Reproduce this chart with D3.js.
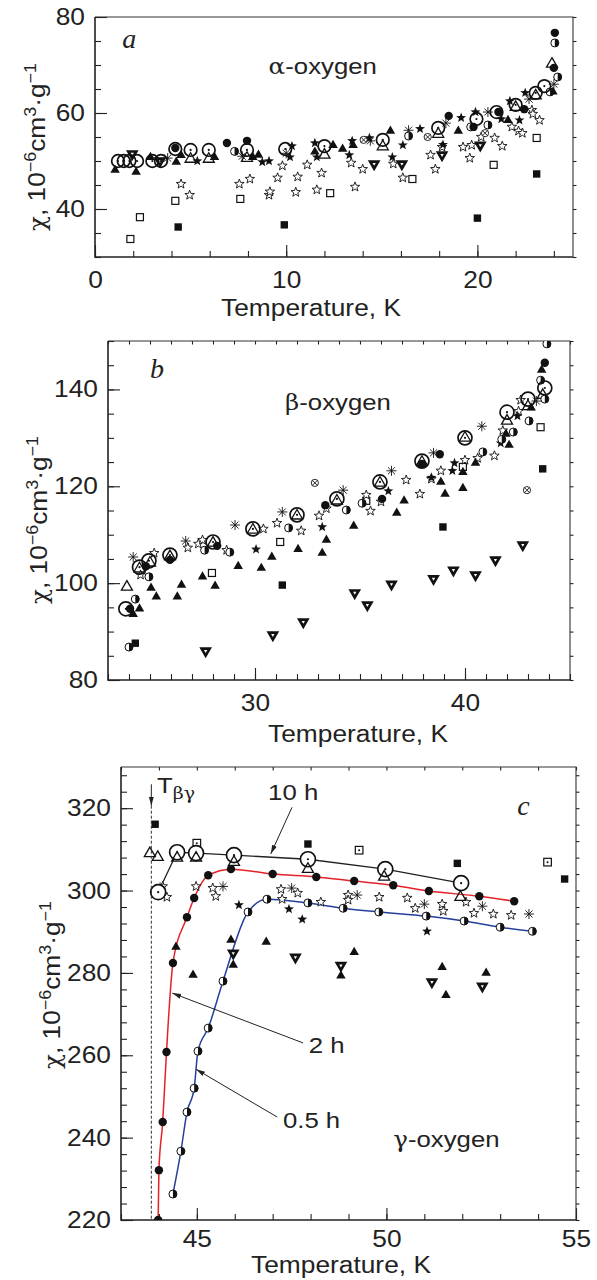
<!DOCTYPE html>
<html><head><meta charset="utf-8">
<script src="https://cdn.jsdelivr.net/npm/d3@7"></script>
<style>body{margin:0;background:#fff}svg{display:block}</style>
</head><body>
<svg id="chart" width="597" height="1280"></svg>
<script>
// ---------------- Panel a (alpha-oxygen) ----------------
const aXTicks = [0, 10, 20];
const aYTicks = [40, 60, 80];
const aBigCircle = [[1.2,50],[1.5,50],[1.8,50],[2.2,50],[3.0,50],[3.45,50],[4.2,52.5],[5.0,52.3],[5.95,52.3],[7.95,52.3],[9.95,52.5],[12.0,53.1],[15.05,54.4],[17.95,56.9],[19.95,58.75],[21.0,60.2],[22.0,61.7],[23.05,64.2],[23.5,65.6]];
const aOpenTri = [[5.0,50.4],[5.95,50.4],[7.95,50.6],[12.0,51.25],[15.05,53],[17.95,55.6],[22.0,61.2],[23.05,63.6],[23.9,70.2]];
const aFilledTri = [[1.05,48.1],[2.15,47.7],[2.9,50.8],[4.25,49.8],[4.5,51.2],[6.25,50.8],[8.25,50.8],[8.55,51.25],[11.5,51.9],[12.45,53.3],[12.95,52.5],[13.5,53.3],[15.45,56.25],[19.0,56.25],[21.6,58.5],[23.95,64.4]];
const aFilledCircle = [[4.2,52.7],[6.9,53.75],[7.95,54.2],[18.5,59.4],[19.8,57.1],[21.1,60.2],[22.45,60.8],[24.0,69.4],[24.05,76.7]];
const aHalfCircle = [[7.3,52],[16.4,55.2],[19.65,57.1],[20.55,57.5],[23.8,64.4],[24.2,67.5],[24.05,74.6]];
const aOpenSquare = [[1.85,33.75],[2.35,38.3],[4.2,41.7],[7.6,42.1],[12.3,43.3],[16.6,46.25],[20.85,49.2],[23.1,54.8]];
const aFilledSquare = [[4.35,36.25],[9.9,36.7],[20.0,38.1],[23.1,47.3]];
const aOpenStar = [[4.5,45.2],[4.95,42.9],[7.55,45.2],[8.1,46.25],[9.1,42.9],[9.15,43.6],[9.55,46.5],[9.8,49],[10.5,43.5],[10.6,46.7],[11.1,49.2],[11.6,44],[11.85,47.5],[13.4,49.6],[13.6,44.6],[14.0,48.3],[15.6,49.4],[16.1,46.5],[17.55,51.25],[17.8,48.3],[18.15,52.9],[19.25,52.9],[19.6,50.6],[19.7,53.3],[20.2,55],[20.9,54.8],[21.3,53.1],[21.8,57.1],[22.15,56.25],[22.35,55.8],[22.85,60.6],[22.9,59.8],[23.25,58.5]];
const aFilledStar = [[5.35,50],[8.75,49.8],[9.1,50],[10.3,53.1],[10.2,50.8],[11.5,53.75],[11.6,50.8],[13.45,54.2],[13.3,51.25],[14.35,54.8],[15.55,50.8],[16.1,53.3],[17.0,56.7],[18.2,53.4],[19.15,59],[19.9,60.2],[21.25,58.75],[21.7,62.5],[22.2,58.5],[22.5,64.2]];
const aAsterisk = [[3.8,50.6],[7.7,51],[10.0,51.6],[14.4,54.2],[16.4,56.4],[18.35,57.9],[20.55,60.2],[22.7,62.9],[24.0,66]];
const aCircleX = [[14.05,54.4],[17.4,55],[20.4,55.8]];
const aDownTri = [[1.95,51.5],[3.4,50],[14.6,49.4],[16.05,49.4],[18.15,51.25],[20.15,53.3]];

// ---------------- Panel b (beta-oxygen) ----------------
const bXTicks = [30, 40];
const bYTicks = [80, 100, 120, 140];
const bBigCircle = [[23.85,94.7],[24.5,103.3],[24.95,104.6],[25.95,105.8],[28.0,108.5],[29.9,111.2],[32.0,114.1],[33.9,117.4],[35.95,120.9],[37.95,125.2],[40.0,130],[42.0,135.3],[43.0,138],[43.8,140.3]];
const bOpenTri = [[23.9,99.2],[24.5,103],[25.0,104.2],[25.95,105.5],[28.0,108.3],[29.9,111],[32.0,113.9],[33.9,117],[35.95,120.7],[37.95,125],[40.0,130],[42.0,133.5],[43.0,136.5],[43.7,138.8]];
const bFilledTri = [[24.2,93.6],[24.5,94.7],[25.05,99],[25.3,97.2],[26.3,97.2],[26.5,99.6],[27.5,101.3],[28.1,99.4],[29.2,103.5],[30.3,103.1],[30.8,105.4],[32.05,107],[33.2,106.2],[33.4,108.9],[34.7,111.8],[36.75,114.5],[37.1,117],[38.85,120.9],[39.05,118.4],[39.9,122.9],[39.9,119.6],[40.5,124.8],[41.95,130.8],[42.1,128.5],[43.15,136.2],[43.65,144]];
const bFilledCircle = [[24.05,94.7],[24.8,103.5],[25.95,104.8],[28.2,107.7],[33.35,116.1],[36.05,117.4],[37.95,124.6],[38.8,126.6],[43.8,145.5]];
const bHalfCircle = [[24.3,96.7],[24.0,86.8],[24.95,101.3],[27.6,106.8],[28.8,106.4],[31.6,111.4],[34.35,115.1],[35.1,116.5],[40.85,127.1],[41.75,129.7],[42.3,131.2],[43.05,133.5],[43.6,141.9],[43.8,138],[43.9,149.4]];
const bOpenSquare = [[27.95,102.1],[31.2,108.5],[35.3,117],[39.9,124],[43.6,132.2]];
const bFilledSquare = [[24.3,87.6],[31.3,99.6],[38.95,111.6],[43.7,123.6]];
const bOpenStar = [[24.55,101.7],[25.2,106.2],[26.8,107.3],[27.3,108.1],[27.5,108.9],[28.65,106.8],[30.4,111.2],[31.05,112.4],[32.2,110.8],[33.05,113.9],[33.4,115.4],[35.3,118.2],[35.5,114.9],[36.0,116.8],[37.2,121.3],[37.85,118.4],[38.4,121.5],[38.85,123.2],[40.0,125.4],[40.6,125.8],[41.4,126.3],[41.8,131.5],[42.55,135.5],[42.65,137.8]];
const bFilledStar = [[30.05,107],[33.2,111.6],[36.35,119],[38.4,121.8],[39.4,123.2],[39.5,124.8],[41.7,128.9],[42.5,134.5]];
const bAsterisk = [[24.2,105.4],[26.7,108.7],[29.05,112],[31.3,114.7],[34.2,119.2],[36.5,123.2],[38.5,126.9],[40.8,132.4],[43.4,137.6]];
const bCircleX = [[32.85,120.7],[42.95,119.2]];
const bDownTri = [[27.65,86.0],[30.85,89.3],[32.3,92],[34.75,98],[35.35,95.5],[36.5,99.8],[38.5,100.9],[39.45,102.7],[40.5,101.7],[41.45,104.8],[42.75,107.9]];

// ---------------- Panel c (gamma-oxygen) ----------------
const cXTicks = [45, 50, 55];
const cYTicks = [220, 240, 260, 280, 300, 320];
const c10h = [[43.98,299.6],[44.48,309.3],[44.98,309.1],[45.98,308.6],[47.93,307.6],[49.97,305.2],[51.97,301.8]];
const c2h = [[43.98,220],[44.0,232.1],[44.1,243.8],[44.2,260.8],[44.37,282.4],[44.74,293.5],[44.93,298.2],[45.3,303.7],[45.9,305.2],[47.0,304],[48.15,303.3],[49.15,302.3],[50.18,301.3],[51.12,299.9],[52.45,298.6],[53.37,297.4]];
const c05h = [[44.37,226.3],[44.58,236.7],[44.74,246.2],[44.93,252],[45.03,261],[45.3,266.6],[45.69,278],[46.35,294.8],[46.85,297.9],[47.93,297],[48.86,295.7],[49.8,294.8],[51.05,293.8],[52.05,292.6],[53.0,291.1],[53.85,290.1]];
const cOpenTri = [[43.76,309],[43.97,308.1],[44.48,307.9],[44.98,307.9],[45.98,306.9],[47.93,305.2],[49.94,303.3],[51.95,298.4]];
const cFilledSquare = [[43.9,316.1],[47.93,311.3],[51.87,306.6],[54.7,302.8]];
const cDotSquare = [[45.0,311.5],[49.28,309.8],[54.25,306.9]];
const cOpenStar = [[44.21,298.4],[44.1,301],[44.98,301],[45.42,300.6],[45.5,298.6],[47.22,300.3],[47.25,297.9],[47.66,299.4],[48.27,297.2],[48.99,298.9],[48.99,297.7],[49.81,298.4],[50.55,298.2],[50.76,295.7],[51.47,296.7],[51.5,295],[52.1,297.2],[52.31,294.5],[52.82,294.3],[53.29,294]];
const cFilledStar = [[46.11,296.5],[47.43,295.5],[47.78,293],[51.07,290.1]];
const cAsterisk = [[44.03,300.8],[45.69,301],[47.5,300.6],[49.23,298.9],[51.0,296.7],[52.53,296.2],[53.76,294.3]];
const cFilledTri = [[44.45,286.3],[44.9,279.5],[45.9,288],[45.96,281.9],[46.83,287.5],[48.8,279.3],[49.15,285],[51.47,281.4],[51.57,274.6],[52.63,280]];
const cDownTri = [[45.96,284.8],[47.6,283.8],[48.8,281.8],[51.2,277.8],[52.53,276.8]];
const cTransition = 43.8;

// ---------------- drawing ----------------
const FONT = "'Liberation Sans', Arial, Helvetica, sans-serif";
const GREEK = "'DejaVu Serif', 'Liberation Serif', serif";
const SX = 1.12;
const svg = d3.select('#chart');
const defs = svg.append('defs');
defs.append('marker').attr('id','ah').attr('viewBox','0 0 10 10').attr('refX',10).attr('refY',5)
  .attr('markerWidth',9).attr('markerHeight',9).attr('orient','auto')
  .append('path').attr('d','M0,2.2 L10,5 L0,7.8 Z').attr('fill','#222');

const triPath = (w, up) => {
  const h = w * 0.866;
  return up ? `M0,${-2*h/3}L${w/2},${h/3}L${-w/2},${h/3}Z` : `M0,${2*h/3}L${w/2},${-h/3}L${-w/2},${-h/3}Z`;
};
const starPath = (R) => {
  const r = R * 0.42; let d = '';
  for (let i = 0; i < 10; i++) {
    const a = -Math.PI/2 + i * Math.PI/5, rr = i % 2 ? r : R;
    d += (i ? 'L' : 'M') + (rr*Math.cos(a)).toFixed(2) + ',' + (rr*Math.sin(a)).toFixed(2);
  }
  return d + 'Z';
};

function mark(g, type, px, py, big) {
  const m = g.append('g').attr('transform', `translate(${px},${py})`);
  const K = '#111';
  switch (type) {
    case 'fc': m.append('circle').attr('r',4.2).attr('fill',K); break;
    case 'hc':
      m.append('circle').attr('r',4).attr('fill','#fff').attr('stroke',K).attr('stroke-width',1);
      m.append('path').attr('d','M0,-4A4,4 0 0 1 0,4Z').attr('fill',K); break;
    case 'ot': m.append('path').attr('d',triPath(11,true)).attr('fill','none').attr('stroke',K).attr('stroke-width',1.3); break;
    case 'ft': m.append('path').attr('d',triPath(9.5,true)).attr('fill',K); break;
    case 'dt': m.append('path').attr('d',triPath(8,false)).attr('fill','#fff').attr('stroke',K).attr('stroke-width',2.7).attr('stroke-linejoin','miter'); break;
    case 'bc':
      m.append('circle').attr('r',big.r).attr('fill',big.fill).attr('stroke',K).attr('stroke-width',1.7);
      m.append('circle').attr('r',1.1).attr('fill',K); break;
    case 'os': m.append('rect').attr('x',-3.5).attr('y',-3.5).attr('width',7).attr('height',7).attr('fill','#fff').attr('stroke',K).attr('stroke-width',1.2); break;
    case 'fs': m.append('rect').attr('x',-3.7).attr('y',-3.7).attr('width',7.4).attr('height',7.4).attr('fill',K); break;
    case 'ds':
      m.append('rect').attr('x',-3.8).attr('y',-3.8).attr('width',7.6).attr('height',7.6).attr('fill','#fff').attr('stroke',K).attr('stroke-width',1.2);
      m.append('circle').attr('r',1).attr('fill',K); break;
    case 'ost': m.append('path').attr('d',starPath(5)).attr('fill','#fff').attr('stroke',K).attr('stroke-width',0.9); break;
    case 'fst': m.append('path').attr('d',starPath(5.2)).attr('fill',K); break;
    case 'ast':
      for (let i = 0; i < 4; i++) {
        const a = i * Math.PI/4, r = 5;
        m.append('line').attr('x1',-r*Math.cos(a)).attr('y1',-r*Math.sin(a)).attr('x2',r*Math.cos(a)).attr('y2',r*Math.sin(a)).attr('stroke',K).attr('stroke-width',0.9);
      }
      break;
    case 'cx':
      m.append('circle').attr('r',3.6).attr('fill','#fff').attr('stroke',K).attr('stroke-width',0.9);
      m.append('path').attr('d','M-2.5,-2.5L2.5,2.5M-2.5,2.5L2.5,-2.5').attr('stroke',K).attr('stroke-width',0.9); break;
  }
}

function styleText(sel, size) {
  sel.attr('font-family', FONT).attr('font-size', size).attr('fill', '#222');
}

function panel(cfg) {
  const x = d3.scaleLinear().domain(cfg.xDom).range([cfg.left, cfg.right]);
  const y = d3.scaleLinear().domain(cfg.yDom).range([cfg.bottom, cfg.top]);
  const g = svg.append('g');
  defs.append('clipPath').attr('id','clip-'+cfg.id).append('rect')
    .attr('x',cfg.left).attr('y',cfg.top).attr('width',cfg.right-cfg.left).attr('height',cfg.bottom-cfg.top);

  const axStyle = s => { s.select('.domain').remove(); s.selectAll('line').attr('stroke','#222').attr('stroke-width',1.1); };
  g.append('g').attr('transform',`translate(0,${cfg.bottom})`)
    .call(d3.axisBottom(x).tickValues(cfg.xMinor).tickSize(-6).tickFormat('')).call(axStyle);
  g.append('g').attr('transform',`translate(${cfg.left},0)`)
    .call(d3.axisLeft(y).tickValues(cfg.yMinor).tickSize(-6).tickFormat('')).call(axStyle);
  g.append('g').attr('transform',`translate(${cfg.right},0)`)
    .call(d3.axisRight(y).tickValues(cfg.yMinor).tickSize(3.5).tickFormat('')).call(axStyle);
  if (cfg.topTicks) g.append('g').attr('transform',`translate(0,${cfg.top})`)
    .call(d3.axisTop(x).tickValues(cfg.xMinor).tickSize(-3.5).tickFormat('')).call(axStyle);
  const bx = g.append('g').attr('transform',`translate(0,${cfg.bottom})`)
    .call(d3.axisBottom(x).tickValues(cfg.xMajor).tickSize(-12).tickPadding(cfg.xPad).tickFormat(d3.format('d'))).call(axStyle);
  const by = g.append('g').attr('transform',`translate(${cfg.left},0)`)
    .call(d3.axisLeft(y).tickValues(cfg.yMajor).tickSize(-12).tickPadding(9).tickFormat(d3.format('d'))).call(axStyle);
  [bx, by].forEach(a => { a.attr('font-family',null).attr('font-size',null);
    a.selectAll('text').call(styleText, 23.5).attr('transform',`scale(${SX},1)`); });
  g.append('path').attr('d',`M${cfg.left},${cfg.top}H${cfg.right}V${cfg.bottom}`).attr('fill','none').attr('stroke','#333').attr('stroke-width',1.1);
  g.append('path').attr('d',`M${cfg.left},${cfg.top}V${cfg.bottom}H${cfg.right}`).attr('fill','none').attr('stroke','#222').attr('stroke-width',1.6);

  g.append('text').attr('transform',`translate(${cfg.xTitle[0]},${cfg.xTitle[1]}) scale(${SX},1)`)
    .attr('text-anchor','middle').call(styleText, 23.5).text('Temperature, K');
  const yt = g.append('text').attr('transform',`translate(${cfg.yTitle[0]},${cfg.yTitle[1]}) rotate(-90) scale(${SX},1)`)
    .attr('text-anchor','middle').call(styleText, 23.5);
  yt.append('tspan').attr('font-family',GREEK).attr('font-size',22).text('χ');
  yt.append('tspan').text(', 10');
  yt.append('tspan').attr('dy',-9).attr('font-size',16).text('−6');
  yt.append('tspan').attr('dy',9).text('cm');
  yt.append('tspan').attr('dy',-9).attr('font-size',16).text('3');
  yt.append('tspan').attr('dy',9).text('·g');
  yt.append('tspan').attr('dy',-9).attr('font-size',16).text('−1');

  const plot = g.append('g').attr('clip-path',`url(#clip-${cfg.id})`);
  return {x, y, g, plot};
}

function series(P, data, type, big) {
  data.forEach(d => mark(P.plot, type, P.x(d[0]), P.y(d[1]), big));
}
function label(P, T, chi, str, size, opts = {}) {
  const t = P.g.append('text').attr('transform',`translate(${P.x(T)},${P.y(chi)}) scale(${opts.sx || SX},1)`)
    .call(styleText, size);
  if (opts.greek) {
    t.append('tspan').attr('font-family',GREEK).attr('font-size',size - 1).text(opts.greek);
    t.append('tspan').text(str);
  } else t.text(str);
  if (opts.italic) t.attr('font-family',"'Liberation Serif', 'Times New Roman', serif").attr('font-style','italic');
  return t;
}

// Panel a
const A = panel({id:'a', xDom:[0,25], yDom:[30,80], left:95, right:573, top:17, bottom:257,
  xMajor:aXTicks, xMinor:d3.range(0,25.01,2), yMajor:aYTicks, yMinor:d3.range(30,80.01,5), xPad:14,
  xTitle:[311,316], yTitle:[45,147], topTicks:false});
series(A, aOpenSquare,'os'); series(A, aFilledSquare,'fs'); series(A, aOpenStar,'ost'); series(A, aFilledStar,'fst');
series(A, aAsterisk,'ast'); series(A, aCircleX,'cx'); series(A, aDownTri,'dt'); series(A, aFilledTri,'ft');
series(A, aOpenTri,'ot'); series(A, aHalfCircle,'hc'); series(A, aFilledCircle,'fc');
series(A, aBigCircle,'bc',{r:6.3, fill:'none'});
label(A, 1.42, 73.5, 'a', 28, {italic:true, sx:1});
label(A, 9.08, 68.1, '-oxygen', 23, {greek:'α'});

// Panel b
const B = panel({id:'b', xDom:[23,45], yDom:[80,150], left:108, right:570, top:341, bottom:680,
  xMajor:bXTicks, xMinor:d3.range(23,45.01,1), yMajor:bYTicks, yMinor:d3.range(80,150.01,5), xPad:14,
  xTitle:[358,742], yTitle:[47,520], topTicks:true});
series(B, bOpenSquare,'os'); series(B, bFilledSquare,'fs'); series(B, bOpenStar,'ost'); series(B, bFilledStar,'fst');
series(B, bAsterisk,'ast'); series(B, bCircleX,'cx'); series(B, bDownTri,'dt'); series(B, bFilledTri,'ft');
series(B, bOpenTri,'ot'); series(B, bHalfCircle,'hc'); series(B, bFilledCircle,'fc');
series(B, bBigCircle,'bc',{r:7, fill:'none'});
label(B, 25.0, 142.4, 'b', 28, {italic:true, sx:1});
label(B, 31.43, 135.7, '-oxygen', 23, {greek:'β'});

// Panel c
const C = panel({id:'c', xDom:[43,55], yDom:[220,330], left:121, right:576, top:767, bottom:1220,
  xMajor:cXTicks, xMinor:d3.range(43,55.01,1), yMajor:cYTicks, yMinor:d3.range(220,330.01,4), xPad:10,
  xTitle:[341,1273], yTitle:[60,985], topTicks:true});
C.g.append('line').attr('x1',C.x(cTransition)).attr('x2',C.x(cTransition)).attr('y1',C.y(320.6)).attr('y2',C.y(220))
  .attr('stroke','#333').attr('stroke-width',1).attr('stroke-dasharray','3,2');
C.g.append('line').attr('x1',C.x(cTransition)).attr('x2',C.x(cTransition)).attr('y1',C.y(325.8)).attr('y2',C.y(320.6))
  .attr('stroke','#222').attr('stroke-width',1).attr('marker-end','url(#ah)');
const tb = label(C, 43.95, 323.7, 'T', 23);
tb.append('tspan').attr('dy',6).attr('font-size',17).attr('font-family',GREEK).text('βγ');
const ln = d3.line().x(d => C.x(d[0])).y(d => C.y(d[1]));
C.plot.append('path').attr('d', ln(c10h)).attr('fill','none').attr('stroke','#222').attr('stroke-width',1.3);
C.plot.append('path').attr('d', ln.curve(d3.curveMonotoneX)(c2h)).attr('fill','none').attr('stroke','#e42128').attr('stroke-width',1.5);
C.plot.append('path').attr('d', ln.curve(d3.curveMonotoneX)(c05h)).attr('fill','none').attr('stroke','#24409a').attr('stroke-width',1.5);
series(C, cFilledSquare,'fs'); series(C, cDotSquare,'ds'); series(C, cOpenStar,'ost'); series(C, cFilledStar,'fst');
series(C, cAsterisk,'ast'); series(C, cFilledTri,'ft'); series(C, cDownTri,'dt');
series(C, c10h,'bc',{r:7.5, fill:'#fff'});
series(C, cOpenTri,'ot');
series(C, c2h,'fc'); series(C, c05h,'hc');
const arrow = (t1,c1,t2,c2) => C.g.append('line').attr('x1',C.x(t1)).attr('y1',C.y(c1)).attr('x2',C.x(t2)).attr('y2',C.y(c2))
  .attr('stroke','#222').attr('stroke-width',1).attr('marker-end','url(#ah)');
label(C, 46.88, 322, '10 h', 23);
arrow(47.51, 320.2, 46.95, 308.9);
label(C, 47.95, 260.5, '2 h', 23);
arrow(47.8, 263, 44.35, 275.1);
label(C, 47.27, 242.3, '0.5 h', 23);
arrow(47.12, 245, 44.98, 256.6);
label(C, 53.45, 318.3, 'c', 28, {italic:true, sx:1});
label(C, 50.18, 237.7, '-oxygen', 23, {greek:'γ'});
</script>
</body></html>
